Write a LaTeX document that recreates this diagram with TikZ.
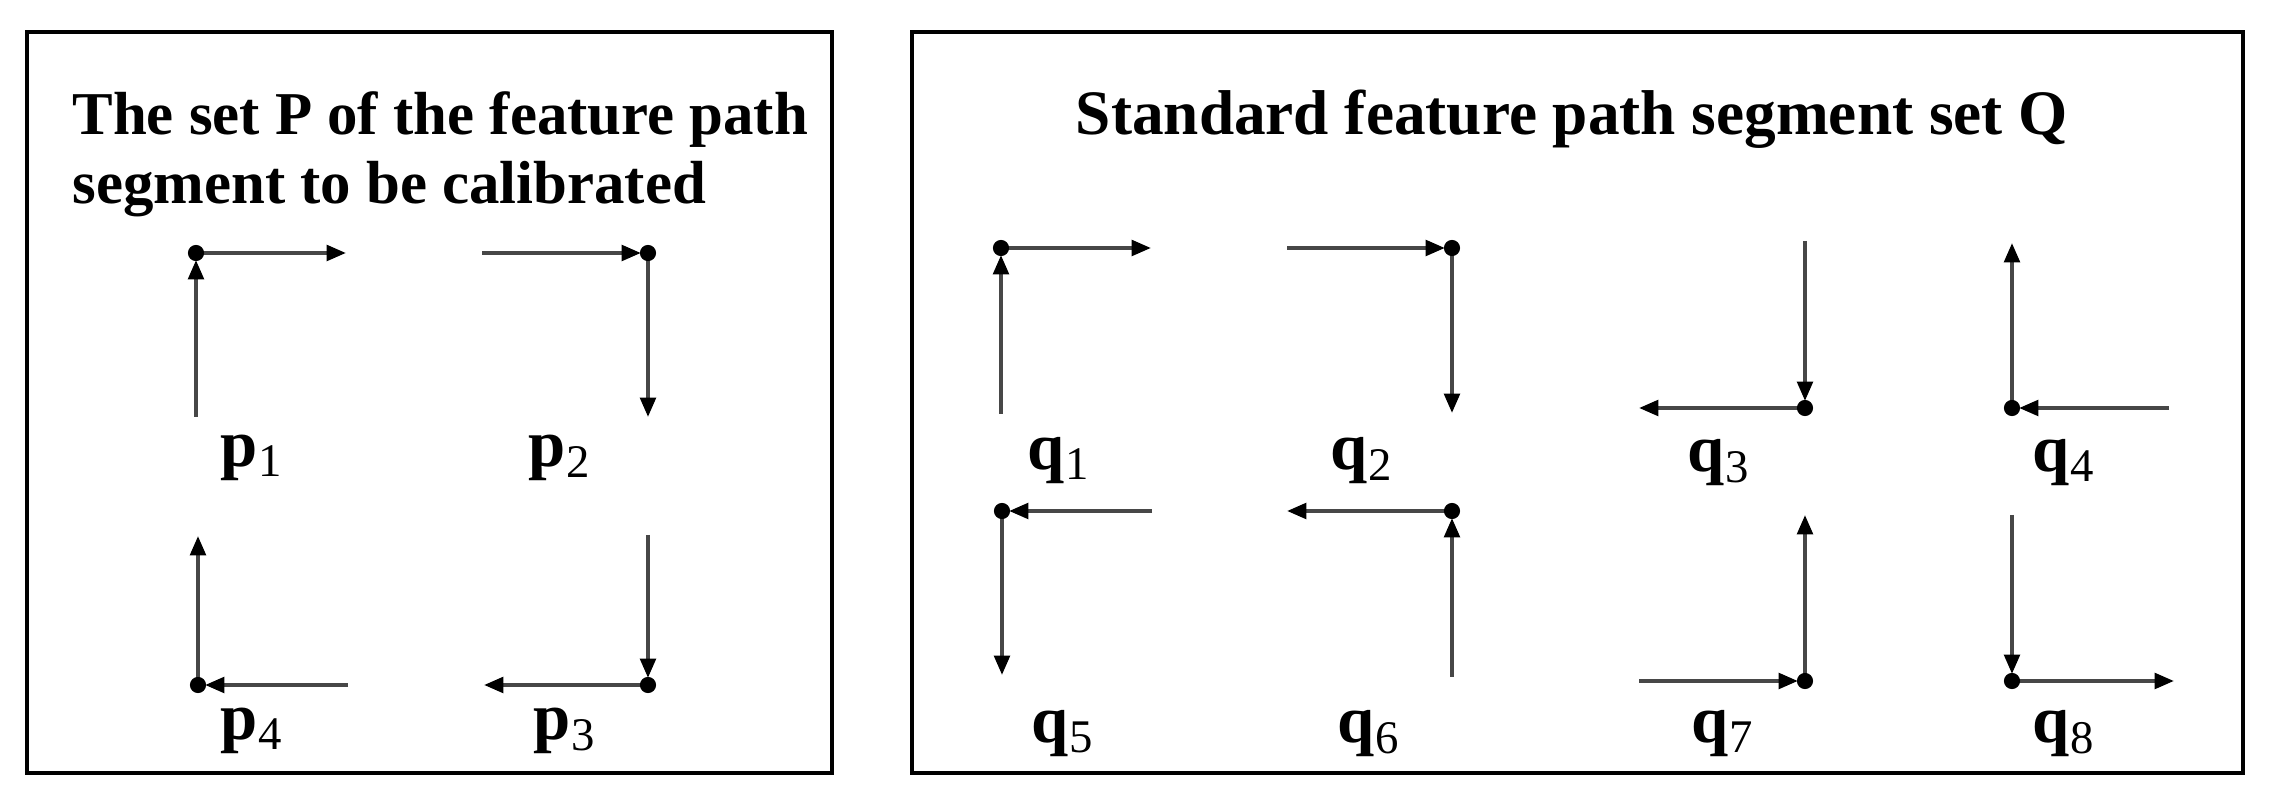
\documentclass[tikz,border=0pt]{standalone}
\usepackage{fontspec}
\setmainfont{Liberation Serif}
\usetikzlibrary{arrows.meta}

\begin{document}
\begin{tikzpicture}[x=0.01cm,y=-0.01cm,
    seg/.style={draw=black!72,line width=1.1pt,
      -{Triangle[length=5.5pt,width=4.4pt,color=black]}},
    lab/.style={anchor=base,font=\fontsize{19}{22}\selectfont\bfseries},
    ttl/.style={anchor=base west,font=\fontsize{17.3}{21}\selectfont\bfseries},
    frame/.style={draw,line width=0.9pt}]
  \useasboundingbox (0,0) rectangle (2271,810);
  % the two panels
  \draw[frame] (27,32) rectangle (832,773);
  \draw[frame] (912,32) rectangle (2243,773);
  \node[ttl] (ttlP) at (60,135) {The set P of the feature path};
  \node[ttl] (ttlPb) at (60,204) {segment to be calibrated};
  \node[ttl,anchor=base,font=\fontsize{18}{21}\selectfont\bfseries] (ttlQ)
    at (1572,135) {Standard feature path segment set Q};
  % name / start / corner / end
  \foreach \n/\s/\c/\e in {
      p1/{196,417}/{196,253}/{346,253}, p2/{482,253}/{648,253}/{648,417},
      p3/{648,535}/{648,685}/{484,685}, p4/{348,685}/{198,685}/{198,536},
      q1/{1001,414}/{1001,248}/{1151,248}, q2/{1287,248}/{1452,248}/{1452,413},
      q3/{1805,241}/{1805,408}/{1639,408}, q4/{2169,408}/{2012,408}/{2012,243},
      q5/{1152,511}/{1002,511}/{1002,675}, q6/{1452,677}/{1452,511}/{1287,511},
      q7/{1639,681}/{1805,681}/{1805,515}, q8/{2012,515}/{2012,681}/{2174,681}} {
    \coordinate (\n s) at (\s);
    \coordinate (\n c) at (\c);
    \coordinate (\n e) at (\e);
    \draw[seg,shorten >=2pt] (\n s) -- (\n c);
    \draw[seg] (\n c) -- (\n e);
    \fill (\n c) circle (2.3pt);
  }
  % labels under the segments
  \foreach \l/\i/\x/\y in {p/1/252/467, p/2/560/467, p/3/565/740, p/4/252/740,
      q/1/1059/470, q/2/1362/470, q/3/1719/472, q/4/2064/472,
      q/5/1063/743, q/6/1369/743, q/7/1723/743, q/8/2064/743} {
    \node[lab] (lab\l\i) at (\x,\y) {\l\textsubscript{\mdseries\i}};
  }
\end{tikzpicture}
\end{document}
